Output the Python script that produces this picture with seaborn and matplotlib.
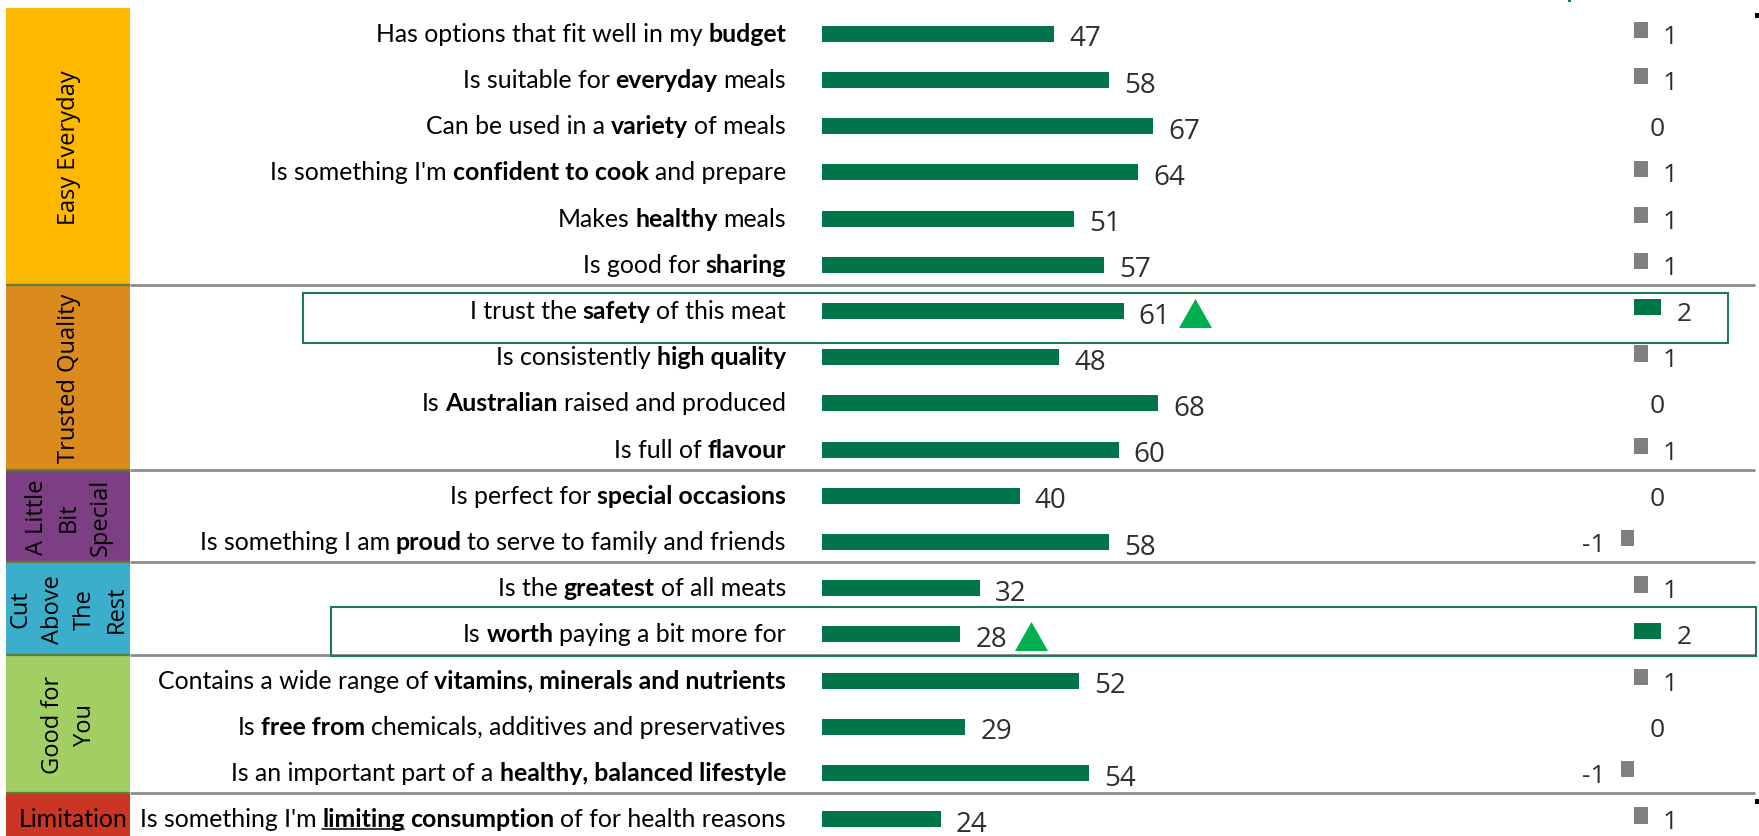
import re
import matplotlib
matplotlib.use("Agg")
import matplotlib.pyplot as plt
from matplotlib.patches import Rectangle
from matplotlib.transforms import offset_copy
import numpy as np
import pandas as pd
import seaborn as sns

# ---------------- data ----------------
statements = [
    "Has options that fit well in my **budget**",
    "Is suitable for **everyday** meals",
    "Can be used in a **variety** of meals",
    "Is something I'm **confident to cook** and prepare",
    "Makes **healthy** meals",
    "Is good for **sharing**",
    "I trust the **safety** of this meat",
    "Is consistently **high quality**",
    "Is **Australian** raised and produced",
    "Is full of **flavour**",
    "Is perfect for **special occasions**",
    "Is something I am **proud** to serve to family and friends",
    "Is the **greatest** of all meats",
    "Is **worth** paying a bit more for",
    "Contains a wide range of **vitamins, minerals and nutrients**",
    "Is **free from** chemicals, additives and preservatives",
    "Is an important part of a **healthy, balanced lifestyle**",
    "Is something I'm __limiting__ **consumption** of for health reasons",
]
scores = [47, 58, 67, 64, 51, 57, 61, 48, 68, 60, 40, 58, 32, 28, 52, 29, 54, 24]
changes = [1, 1, 0, 1, 1, 1, 2, 1, 0, 1, 0, -1, 1, 2, 1, 0, -1, 1]
up_rows = [6, 13]

groups = ["Easy Everyday", "Trusted Quality", "A Little\nBit\nSpecial",
          "Cut\nAbove\nThe\nRest", "Good for\nYou", "Limitation"]
group_sizes = [6, 4, 2, 2, 3, 1]
group_colors = ["#FFB800", "#DB8A1D", "#7C3F83", "#3AAECB", "#A1CF64", "#CB3524"]

# ---------------- styling ----------------
GREEN = "#00754A"
GREY = "#808080"
TRI = "#00B050"
BOX = "#1E7B50"
LABEL = "#2F2F2F"

W, H = 1759, 837
ROW0, ROWH = 34.8, 46.2          # pixel centre of first row, row pitch
YLIM = ((H - ROW0) / ROWH, -ROW0 / ROWH)

sns.set_theme(style="white")
plt.rcParams["font.family"] = ["Lato", "DejaVu Sans"]
NUM_FONT = ["Open Sans", "DejaVu Sans"]
CAT_FONT = ["Open Sans", "DejaVu Sans"]
STMT_SIZE = 17.9

fig = plt.figure(figsize=(W / 100, H / 100), dpi=100)
fig.patch.set_facecolor("white")

# background axes in pixel x / row y for the layout furniture
ax_bg = fig.add_axes([0, 0, 1, 1], label="bg")
ax_bg.set_xlim(0, W)
ax_bg.set_ylim(*YLIM)
ax_bg.axis("off")

# main score axes: zero at x=822 px, 4.945 px per point
MAIN_ZERO, MAIN_PX = 822.0, 4.945
ax_main = fig.add_axes([0, 0, 1, 1], label="main")
# change axes: zero at x=1634 px, 13.5 px per point
CHG_ZERO, CHG_PX = 1634.3, 13.5
ax_chg = fig.add_axes([0, 0, 1, 1], label="chg")

df = pd.DataFrame({
    "row": np.arange(len(scores), dtype=float),
    "score": scores,
    "change": changes,
})
df["flag"] = np.where(df["row"].isin(up_rows), "up", "flat")

sns.barplot(data=df, x="score", y="row", orient="h", native_scale=True,
            width=0.35, color=GREEN, saturation=1, errorbar=None,
            linewidth=0, ax=ax_main)
sns.barplot(x=df["change"], y=df["row"] - 0.08, hue=df["flag"], orient="h",
            native_scale=True, width=0.35, dodge=False, saturation=1,
            palette={"up": GREEN, "flat": GREY}, errorbar=None, linewidth=0,
            legend=False, ax=ax_chg)

for ax, zero, ppx in ((ax_main, MAIN_ZERO, MAIN_PX), (ax_chg, CHG_ZERO, CHG_PX)):
    ax.set_xlim(-zero / ppx, (W - zero) / ppx)
    ax.set_ylim(*YLIM)
    ax.patch.set_alpha(0)
    ax.axis("off")

# score labels
main_lbl = offset_copy(ax_main.transData, fig=fig, x=15, y=0, units="dots")
for r, s in zip(df["row"], scores):
    ax_main.text(s, r + 0.25, f"{s}", transform=main_lbl, ha="left",
                 va="baseline", fontsize=20, family=NUM_FONT, color=LABEL)

# change labels
chg_pos = offset_copy(ax_chg.transData, fig=fig, x=15, y=0, units="dots")
chg_neg = offset_copy(ax_chg.transData, fig=fig, x=-15, y=0, units="dots")
for r, c in zip(df["row"], changes):
    if c >= 0:
        ax_chg.text(c, r + 0.195, f"{c}", transform=chg_pos, ha="left",
                    va="baseline", fontsize=19, family=NUM_FONT, color=LABEL)
    else:
        ax_chg.text(c, r + 0.195, f"{c}", transform=chg_neg, ha="right",
                    va="baseline", fontsize=19, family=NUM_FONT, color=LABEL)

# up-arrows next to significant scores
tri_tr = offset_copy(ax_main.transData, fig=fig, x=71, y=0, units="dots")
tri_marker = [(-1, -0.88), (1, -0.88), (0, 0.88), (-1, -0.88)]
for r in up_rows:
    ax_main.plot([scores[r]], [r + 0.04], ls="none", marker=tri_marker,
                 markersize=23.8, color=TRI, markeredgewidth=0,
                 transform=tri_tr)

# ---------------- category column ----------------
starts = np.cumsum([0] + group_sizes[:-1])
bounds = [s - 0.56 for s in starts] + [YLIM[0] + 0.2]
for i, (name, col) in enumerate(zip(groups, group_colors)):
    top, bot = bounds[i], bounds[i + 1]
    ax_bg.add_patch(Rectangle((6, top), 124, bot - top, facecolor=col,
                              edgecolor="none", zorder=1))
    if name == "Limitation":
        ax_bg.text(73, starts[i] + 0.15, name, ha="center", va="baseline",
                   fontsize=STMT_SIZE, color="black", zorder=3)
    else:
        ax_bg.text(69, (top + bot) / 2, name, rotation=90, ha="center",
                   va="center", multialignment="center", linespacing=1.45,
                   fontsize=17, family=CAT_FONT, color="black", zorder=3)

# group separators
for b in bounds[1:-1]:
    ax_bg.plot([130, 1755], [b, b], color="#8C8C8C", lw=2.0,
               solid_capstyle="butt", zorder=2)
    ax_bg.plot([6, 130], [b, b], color="#5E7F3B", lw=1.6,
               solid_capstyle="butt", zorder=2)

# highlight boxes around significant rows
for r, x0, x1, dy0, dy1 in ((6, 303, 1728, -0.39, 0.69),
                             (13, 331, 1756, -0.593, 0.468)):
    ax_bg.add_patch(Rectangle((x0, r + dy0), x1 - x0, dy1 - dy0, fill=False,
                              edgecolor=BOX, lw=1.5, zorder=4))

# small clipped marks at the frame edges
px = 1 / ROWH
ax_bg.add_patch(Rectangle((1755, (13.5 - ROW0) / ROWH), 4, 5 * px,
                          facecolor="black", edgecolor="none", zorder=5))
ax_bg.add_patch(Rectangle((1755, (800 - ROW0) / ROWH), 4, 5 * px,
                          facecolor="black", edgecolor="none", zorder=5))
ax_bg.add_patch(Rectangle((1568, YLIM[1]), 3, 3 * px,
                          facecolor="#0E7A55", edgecolor="none", zorder=5))

# ---------------- statement labels (mixed weight) ----------------
renderer = fig.canvas.get_renderer()


def parse(label):
    """Split a marked-up label into (text, weight, underline, gap_before)."""
    runs = []
    for part in re.split(r"(\*\*.+?\*\*|__.+?__)", label):
        if not part:
            continue
        if part.startswith("**"):
            runs.append((part[2:-2], "bold", False))
        elif part.startswith("__"):
            runs.append((part[2:-2], "bold", True))
        else:
            runs.append((part, "normal", False))
    tokens = []
    pending = False
    for text, weight, ul in runs:
        if text.startswith(" "):
            pending = True
        core = text.strip()
        if core:
            tokens.append((core, weight, ul, pending and bool(tokens)))
            pending = False
        if text.endswith(" "):
            pending = True
    return tokens


def text_width(s, weight):
    t = ax_bg.text(0, 0, s, fontsize=STMT_SIZE, fontweight=weight)
    w = t.get_window_extent(renderer).width
    t.remove()
    return w


space_w = text_width("a a", "normal") - text_width("aa", "normal") - 0.5
RIGHT = 786
for r, label in enumerate(statements):
    y = r + 0.15
    items = []
    for txt, weight, ul, gap in parse(label):
        t = ax_bg.text(0, y, txt, fontsize=STMT_SIZE, fontweight=weight,
                       ha="left", va="baseline", color="black", zorder=3)
        w = t.get_window_extent(renderer).width
        items.append((t, w, space_w if gap else 0.0, ul))
    total = sum(w + g for _, w, g, _ in items)
    x = RIGHT - total
    for t, w, g, ul in items:
        x += g
        t.set_x(x)
        if ul:
            ax_bg.plot([x, x + w], [y + 2.5 / ROWH] * 2, color="black",
                       lw=1.1, zorder=3)
        x += w

fig.savefig("out.png", dpi=100, facecolor="white")
